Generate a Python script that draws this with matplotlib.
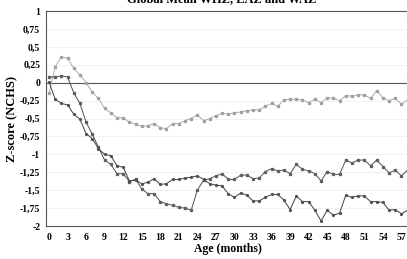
import numpy as np
import matplotlib.pyplot as plt

months = np.arange(0, 59)
xticks = np.arange(0, 58, 3)
yticks = [1, 0.75, 0.5, 0.25, 0, -0.25, -0.5, -0.75, -1, -1.25, -1.5, -1.75, -2]

whz = [-0.15, 0.22, 0.36, 0.34, 0.20, 0.11, 0.00, -0.13, -0.22, -0.36,
       -0.42, -0.49, -0.49, -0.55, -0.58, -0.61, -0.60, -0.57, -0.63, -0.64,
       -0.57, -0.57, -0.53, -0.50, -0.45, -0.53, -0.50, -0.46, -0.43, -0.44,
       -0.42, -0.41, -0.39, -0.38, -0.38, -0.33, -0.29, -0.33, -0.24, -0.23,
       -0.23, -0.24, -0.28, -0.23, -0.28, -0.21, -0.22, -0.25, -0.18, -0.19,
       -0.17, -0.17, -0.22, -0.11, -0.21, -0.25, -0.22, -0.30, -0.24]

waz = [0.08, 0.08, 0.095, 0.08, -0.14, -0.29, -0.55, -0.72, -0.90, -1.08,
       -1.14, -1.27, -1.27, -1.38, -1.35, -1.48, -1.55, -1.55, -1.66, -1.69,
       -1.71, -1.74, -1.75, -1.78, -1.50, -1.36, -1.34, -1.30, -1.27, -1.35,
       -1.35, -1.29, -1.29, -1.34, -1.33, -1.24, -1.20, -1.23, -1.22, -1.27,
       -1.14, -1.21, -1.23, -1.27, -1.37, -1.24, -1.28, -1.28, -1.08, -1.12,
       -1.08, -1.08, -1.16, -1.08, -1.17, -1.26, -1.22, -1.30, -1.22]

laz = [0.01, -0.23, -0.29, -0.31, -0.44, -0.51, -0.71, -0.78, -0.92, -1.00,
       -1.02, -1.16, -1.18, -1.37, -1.36, -1.41, -1.39, -1.34, -1.42, -1.41,
       -1.35, -1.35, -1.33, -1.32, -1.30, -1.35, -1.41, -1.43, -1.44, -1.55,
       -1.60, -1.54, -1.57, -1.65, -1.65, -1.60, -1.56, -1.56, -1.64, -1.77,
       -1.58, -1.66, -1.66, -1.78, -1.93, -1.78, -1.85, -1.82, -1.57, -1.60,
       -1.58, -1.58, -1.66, -1.66, -1.67, -1.78, -1.77, -1.83, -1.78]

plt.rcParams['font.family'] = 'Liberation Serif'
plt.rcParams['font.weight'] = 'bold'

fig = plt.figure(figsize=(4.07, 2.59), dpi=100)
# axes runs a little past the right edge of the picture, as in the reference
ax = fig.add_axes([45.7/407, 1 - 226/259, 365/407, 215/259])

for y in yticks:
    ax.axhline(y, color='#efefef', lw=0.6, zorder=0)
ax.axhline(0, color='#555555', lw=0.8, zorder=1)

ax.plot(months, whz, color='#adadad', lw=0.7, marker='s', ms=1.4,
        mfc='#a0a0a0', mec='#a0a0a0', zorder=2)
ax.plot(months, waz, color='#505050', lw=0.7, marker='s', ms=1.4,
        mfc='#606060', mec='#606060', zorder=3)
ax.plot(months, laz, color='#404040', lw=0.7, marker='o', ms=1.3,
        mfc='#505050', mec='#505050', zorder=3)

ax.set_xlim(-0.53, 58.5)
ax.set_ylim(-2, 1)
ax.set_xticks(xticks)
ax.set_xticklabels([str(t) for t in xticks])
ax.set_yticks(yticks)
ax.set_yticklabels([('%g' % t).replace('.', ',') for t in yticks])
ax.tick_params(length=0, labelsize=7, pad=4)
ax.tick_params(axis='x', pad=5)
for s in ['left', 'bottom', 'top']:
    ax.spines[s].set_color('#555555')
    ax.spines[s].set_linewidth(0.8)
ax.spines['right'].set_visible(False)

ax.set_xlabel('Age (months)', fontsize=8.5, fontweight='bold', labelpad=1)
ax.set_ylabel('Z-score (NCHS)', fontsize=9, fontweight='bold', labelpad=1)
fig.text(222/407, 1 - 2/259, 'Global Mean WHZ, LAZ and WAZ', fontsize=9,
         fontweight='bold', ha='center', va='baseline')

fig.savefig('out.png', dpi=100)
